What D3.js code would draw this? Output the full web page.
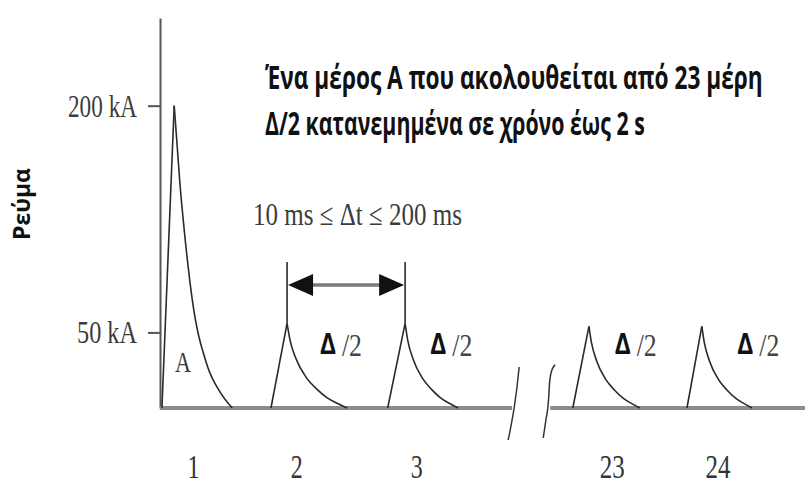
<!DOCTYPE html>
<html><head><meta charset="utf-8">
<script src="https://cdn.jsdelivr.net/npm/d3@7"></script>
<style>html,body{margin:0;padding:0;background:#fff;}</style>
</head><body>
<script>
// ---- data ----
const categories = ["1", "2", "3", "23", "24"];
const pulseStart = [0.3, 17.2, 35.3, 64.0, 81.7];      // time units
const pulsePeakTime = [2.2, 19.7, 38.0, 66.5, 84.0];
const pulseEnd = [11.2, 29.0, 46.2, 74.4, 91.8];
const pulsePeak = [200, 56, 56, 54, 54];               // kA
const labelPos = [5.2, 21.2, 39.8, 70.1, 86.5];
const deltaLabelPos = [24.8, 41.9, 70.5, 89.5];
const deltaLabelText = ["Δ", "Δ", "Δ", "Δ"];
// decay shape: [fraction of decay time, fraction of peak]
const decayA = [[0, 1], [0.1, 0.74], [0.21, 0.52], [0.31, 0.36], [0.57, 0.14], [0.8, 0.05], [1, 0]];
const decayPart = [[0, 1], [0.05, 0.8], [0.15, 0.58], [0.33, 0.35], [0.5, 0.22], [0.67, 0.12], [0.85, 0.05], [1, 0]];
const yTicks = [50, 200];
const axisBreak = [54.6, 60.5];
const titleLines = ["Ένα μέρος Α που ακολουθείται από 23 μέρη", "Δ/2 κατανεμημένα σε χρόνο έως 2 s"];
const yTitle = "Ρεύμα";
const intervalText = "10 ms ≤ Δt ≤ 200 ms";

// ---- layout ----
const W = 809, H = 484;
const svg = d3.select("body").append("svg").attr("width", W).attr("height", H);
const x = d3.scaleLinear().domain([0, 100]).range([160, 805]);
const y = d3.scaleLinear().domain([0, 258]).range([408, 18]);
const serif = "'Liberation Serif', 'Times New Roman', serif";
const sans = "'Open Sans', 'Noto Sans', sans-serif";

// helper: squeeze a text horizontally to a target width via a transform
function fit(sel, tx, ty, width, anchor) {
  sel.attr("x", 0).attr("y", 0).attr("text-anchor", anchor || "start");
  const len = sel.node().getComputedTextLength();
  const s = width / len;
  sel.attr("transform", `translate(${tx},${ty}) scale(${s},1)`);
  return sel;
}

// y axis
const yAxis = d3.axisLeft(y).tickValues(yTicks).tickSize(12).tickSizeOuter(0).tickPadding(11)
  .tickFormat(d => d + " kA");
const ga = svg.append("g").attr("transform", `translate(${x(0)},0)`).call(yAxis);
ga.select(".domain").attr("stroke", "#555").attr("stroke-width", 2);
ga.selectAll(".tick line").attr("stroke", "#555").attr("stroke-width", 2);
ga.selectAll(".tick text").attr("font-family", serif).attr("font-size", 31).attr("fill", "#3c3c3c")
  .attr("dy", "0.34em")
  .attr("textLength", d => d === 200 ? 69 : 60).attr("lengthAdjust", "spacingAndGlyphs");

// baseline (broken)
const segs = [[0, axisBreak[0]], [axisBreak[1], 100]];
svg.selectAll("line.base").data(segs).enter().append("line")
  .attr("x1", d => x(d[0])).attr("x2", d => x(d[1]))
  .attr("y1", y(0)).attr("y2", y(0))
  .attr("stroke", "#8c8c8c").attr("stroke-width", 4);

// break marks
const bx1 = x(axisBreak[0]) + 2, bx2 = x(axisBreak[1]) - 2, by = y(0);
svg.append("path")
  .attr("d", `M${bx1 + 5},${by - 41} Q${bx1 + 3},${by - 20} ${bx1},${by} Q${bx1 - 3},${by + 18} ${bx1 - 6},${by + 32}`)
  .attr("fill", "none").attr("stroke", "#333").attr("stroke-width", 1.5);
svg.append("path")
  .attr("d", `M${bx2 + 7},${by - 43} Q${bx2 + 2},${by - 40} ${bx2 + 1},${by - 20} Q${bx2},${by + 2} ${bx2 - 2},${by + 10} L${bx2 - 5},${by + 30}`)
  .attr("fill", "none").attr("stroke", "#333").attr("stroke-width", 1.5);

// pulses
const riseLine = d3.line().x(d => x(d[0])).y(d => y(d[1]));
const decayLine = d3.line().x(d => x(d[0])).y(d => y(d[1])).curve(d3.curveMonotoneX);
categories.forEach((c, i) => {
  const shape = i === 0 ? decayA : decayPart;
  const t0 = pulsePeakTime[i], t1 = pulseEnd[i], p = pulsePeak[i];
  svg.append("path").attr("d", riseLine([[pulseStart[i], 0], [t0, p]]))
    .attr("fill", "none").attr("stroke", "#2a2a2a").attr("stroke-width", 1.6);
  svg.append("path").attr("d", decayLine(shape.map(s => [t0 + s[0] * (t1 - t0), p * s[1]])))
    .attr("fill", "none").attr("stroke", "#2a2a2a").attr("stroke-width", 1.6);
});

// category labels
categories.forEach((c, i) => {
  const t = svg.append("text").attr("font-family", serif).attr("font-size", 34).attr("fill", "#333").text(c);
  fit(t, x(labelPos[i]), 478, c.length > 1 ? 25 : 12, "middle");
});

// A label
fit(svg.append("text").attr("font-family", serif).attr("font-size", 30).attr("fill", "#3c3c3c").text("A"),
  175, 372, 16);

// Δ/2 labels
deltaLabelPos.forEach((p, i) => {
  fit(svg.append("text").attr("font-family", sans).attr("font-weight", 700)
    .attr("font-size", 28).attr("fill", "#111").text(deltaLabelText[i]), x(p), 354, 16);
  fit(svg.append("text").attr("font-family", serif)
    .attr("font-size", 31).attr("fill", "#444").text("/2"), x(p) + 22, 356, 20);
});

// interval arrow between pulse 2 and pulse 3 peaks
const ax1 = x(pulsePeakTime[1]), ax2 = x(pulsePeakTime[2]);
const ay = 285;
[ax1, ax2].forEach(xx => {
  svg.append("line").attr("x1", xx).attr("x2", xx).attr("y1", 262).attr("y2", y(pulsePeak[1]))
    .attr("stroke", "#2a2a2a").attr("stroke-width", 1.6);
});
svg.append("line").attr("x1", ax1 + 20).attr("x2", ax2 - 20).attr("y1", ay).attr("y2", ay)
  .attr("stroke", "#7a7a7a").attr("stroke-width", 3.5);
svg.append("path").attr("d", `M${ax1 + 1},${ay} L${ax1 + 26},${ay - 11} L${ax1 + 26},${ay + 11} Z`).attr("fill", "#111");
svg.append("path").attr("d", `M${ax2 - 1},${ay} L${ax2 - 26},${ay - 11} L${ax2 - 26},${ay + 11} Z`).attr("fill", "#111");

// interval text
fit(svg.append("text").attr("font-family", serif).attr("font-size", 31)
  .attr("fill", "#3c3c3c").text(intervalText), 253, 225, 209);

// title
const tw = [498, 380];
titleLines.forEach((line, i) => {
  fit(svg.append("text").attr("font-family", sans).attr("font-weight", 700).attr("font-size", 33)
    .attr("fill", "#111").text(line), 265, 89 + i * 46, tw[i]);
});

// y title
const yt = svg.append("text").attr("font-family", sans).attr("font-weight", 700)
  .attr("font-size", 24).attr("fill", "#111").attr("text-anchor", "middle").text(yTitle);
const ylen = yt.node().getComputedTextLength();
yt.attr("transform", `translate(30,204) rotate(-90) scale(${72 / ylen},1)`);
</script>
</body></html>
